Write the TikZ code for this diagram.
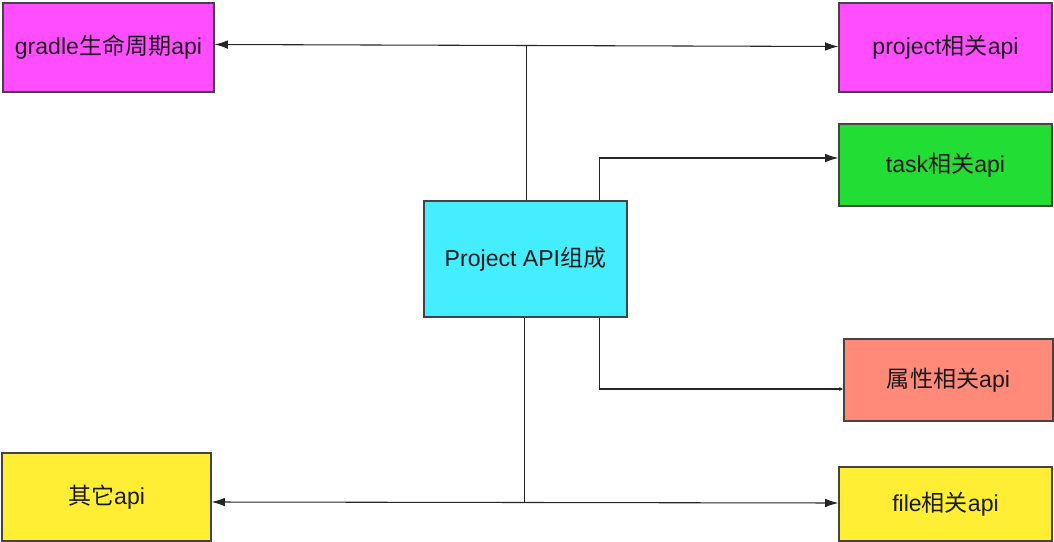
\documentclass[tikz,border=0pt]{standalone}
\usepackage{fontspec}
\setmainfont{Liberation Sans}
\newfontfamily\cjk{Noto Sans CJK SC}
\usetikzlibrary{arrows.meta}
\definecolor{cmag}{HTML}{FF4DFF}
\definecolor{cgreen}{HTML}{22DD33}
\definecolor{ccyan}{HTML}{44EEFF}
\definecolor{csalmon}{HTML}{FF8A7A}
\definecolor{cyellow}{HTML}{FFEE33}
\definecolor{cborder}{HTML}{444444}
\definecolor{ctext}{HTML}{1A1A1A}
\tikzset{
  apibox/.style={draw=cborder, line width=0.9pt, rectangle, inner sep=0pt,
    font=\fontsize{17.3}{20}\selectfont, text=ctext},
  link/.style={draw=black!85, line width=0.8pt},
  tip/.style={-{Latex[length=10pt,width=6.5pt]}},
  tips/.style={{Latex[length=10pt,width=6.5pt]}-{Latex[length=10pt,width=6.5pt]}},
  smalltip/.style={-{Latex[length=3pt,width=3pt]}}
}
\begin{document}
\begin{tikzpicture}[x=0.75pt,y=-0.75pt]
\useasboundingbox (0,0) rectangle (1054,542);
\node[apibox, fill=cmag, minimum width=158.25pt, minimum height=66.75pt] (gradle) at (108.5,47.5) {gradle{\cjk 生命周期}api};
\node[apibox, fill=cmag, minimum width=159.75pt, minimum height=66.75pt] (project) at (945.5,47.5) {project{\cjk 相关}api};
\node[apibox, fill=cgreen, minimum width=159.75pt, minimum height=61.5pt] (task) at (945.5,165) {task{\cjk 相关}api};
\node[apibox, fill=ccyan, minimum width=152.25pt, minimum height=87pt] (core) at (525.5,259) {Project API{\cjk 组成}};
\node[apibox, fill=csalmon, minimum width=156.75pt, minimum height=61.5pt] (attr) at (948.5,380) {{\cjk 属性相关}api};
\node[apibox, fill=cyellow, minimum width=156.75pt, minimum height=66pt] (other) at (106.5,497) {{\cjk 其它}api};
\node[apibox, fill=cyellow, minimum width=159.75pt, minimum height=55.5pt] (file) at (945.5,504) {file{\cjk 相关}api};

% top: gradle <-> project, joined to core
\draw[link, tips] ([yshift=2.25pt]gradle.east) -- ([yshift=0.75pt]project.west);
\coordinate (jt) at ([xshift=0.75pt]core.north);
\draw[link] (jt) -- (jt |- 0,45);
% task
\coordinate (tk) at ([xshift=-21pt]core.north east);
\draw[link, tip] (tk) |- ([yshift=5.25pt]task.west);
% attribute
\coordinate (at) at ([xshift=-21pt]core.south east);
\draw[link, smalltip] (at) |- ([yshift=-6.75pt]attr.west);
% bottom: other <-> file, joined to core
\draw[link, tips] ([yshift=-3.75pt]other.east) -- ([yshift=0.75pt]file.west);
\coordinate (jb) at ([xshift=-0.75pt]core.south);
\draw[link] (jb) -- (jb |- 0,503);
\end{tikzpicture}
\end{document}
